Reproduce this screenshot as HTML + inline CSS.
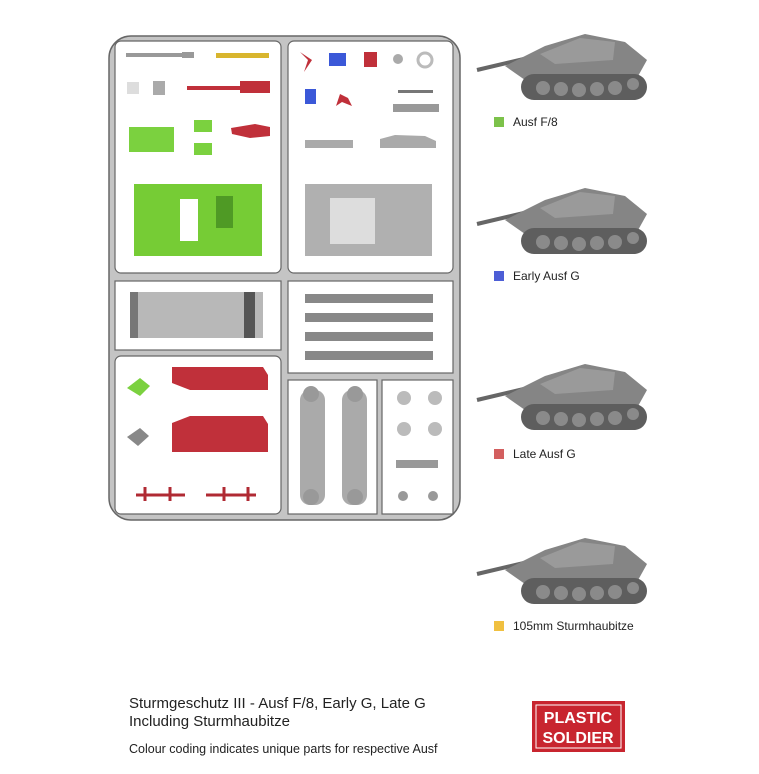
<!DOCTYPE html>
<html><head><style>
body{margin:0;background:#fff;width:759px;height:769px;overflow:hidden;font-family:"Liberation Sans",sans-serif}
</style></head><body>
<svg width="759" height="769" viewBox="0 0 759 769" xmlns="http://www.w3.org/2000/svg" font-family="Liberation Sans, sans-serif">
<defs>
<g id="tank">
  <line x1="-8" y1="52" x2="60" y2="36" stroke="#666" stroke-width="4"/>
  <polygon points="20,48 60,28 100,16 140,24 162,42 152,60 40,62" fill="#858585"/>
  <polygon points="55,36 95,20 130,24 128,42 70,46" fill="#9a9a9a"/>
  <rect x="36" y="56" width="126" height="26" rx="13" fill="#5e5e5e"/>
  <g fill="#8a8a8a"><circle cx="58" cy="70" r="7"/><circle cx="76" cy="71" r="7"/><circle cx="94" cy="72" r="7"/><circle cx="112" cy="71" r="7"/><circle cx="130" cy="70" r="7"/><circle cx="148" cy="66" r="6"/></g>
</g>
</defs>
<!-- sprue frame -->
<rect x="109" y="36" width="351" height="484" rx="22" fill="#c4c4c4" stroke="#666" stroke-width="1.5"/>
<g fill="#fff" stroke="#666" stroke-width="1.2">
<rect x="115" y="41" width="166" height="232" rx="6"/>
<rect x="288" y="41" width="165" height="232" rx="6"/>
<rect x="115" y="281" width="166" height="69"/>
<rect x="288" y="281" width="165" height="92"/>
<rect x="115" y="356" width="166" height="158" rx="6"/>
<rect x="288" y="380" width="89" height="134"/>
<rect x="382" y="380" width="71" height="134"/>
</g>
<!-- top-left parts -->
<rect x="126" y="53" width="60" height="4" fill="#999"/><rect x="182" y="52" width="12" height="6" fill="#999"/>
<rect x="216" y="53" width="53" height="5" fill="#d8b52e"/>
<rect x="127" y="82" width="12" height="12" fill="#ddd"/><rect x="153" y="81" width="12" height="14" fill="#aaa"/>
<rect x="187" y="86" width="60" height="4" fill="#c0303a"/><rect x="240" y="81" width="30" height="12" fill="#c0303a"/>
<rect x="129" y="127" width="45" height="25" fill="#7bd13f"/>
<rect x="194" y="120" width="18" height="12" fill="#7bd13f"/><rect x="194" y="143" width="18" height="12" fill="#7bd13f"/>
<path d="M231 128 L255 124 L270 127 L270 136 L250 138 L232 134Z" fill="#c0303a"/>
<rect x="134" y="184" width="128" height="72" fill="#76cc35"/>
<rect x="180" y="199" width="18" height="42" fill="#fff"/>
<rect x="216" y="196" width="17" height="32" fill="#4f9a25"/>
<!-- top-right parts -->
<path d="M300 52 L312 60 L304 72 L308 60Z" fill="#c0303a"/>
<rect x="329" y="53" width="17" height="13" fill="#3b58d8"/>
<rect x="364" y="52" width="13" height="15" fill="#c0303a"/>
<circle cx="398" cy="59" r="5" fill="#aaa"/><circle cx="425" cy="60" r="7" fill="none" stroke="#bbb" stroke-width="3"/>
<rect x="305" y="89" width="11" height="15" fill="#3b58d8"/>
<path d="M340 94 L348 98 L352 106 L342 102 L336 106Z" fill="#c0303a"/>
<rect x="398" y="90" width="35" height="3" fill="#777"/>
<rect x="393" y="104" width="46" height="8" fill="#999"/>
<rect x="305" y="140" width="48" height="8" fill="#aaa"/>
<path d="M380 139 L395 135 L425 136 L436 141 L436 148 L380 148Z" fill="#aaa"/>
<rect x="305" y="184" width="127" height="72" fill="#b0b0b0"/>
<rect x="330" y="198" width="45" height="46" fill="#ddd"/>
<!-- middle -->
<rect x="130" y="292" width="133" height="46" fill="#b8b8b8"/>
<rect x="130" y="292" width="8" height="46" fill="#777"/><rect x="244" y="292" width="11" height="46" fill="#555"/>
<g fill="#888"><rect x="305" y="294" width="128" height="9"/><rect x="305" y="313" width="128" height="9"/><rect x="305" y="332" width="128" height="9"/><rect x="305" y="351" width="128" height="9"/></g>
<!-- bottom-left -->
<path d="M127 388 L140 378 L150 386 L140 396 Z" fill="#7bd13f"/>
<path d="M127 437 L140 428 L149 436 L138 446 Z" fill="#888"/>
<path d="M172 367 L263 367 L268 375 L268 390 L190 390 L172 383Z" fill="#c0303a"/>
<path d="M172 423 L190 416 L263 416 L268 424 L268 452 L172 452Z" fill="#c0303a"/>
<g stroke="#b02a33" stroke-width="3"><line x1="136" y1="495" x2="185" y2="495"/><line x1="206" y1="495" x2="256" y2="495"/><line x1="145" y1="487" x2="145" y2="501"/><line x1="170" y1="487" x2="170" y2="501"/><line x1="224" y1="487" x2="224" y2="501"/><line x1="248" y1="487" x2="248" y2="501"/></g>
<!-- bogies -->
<g fill="#aaa">
<rect x="300" y="390" width="25" height="115" rx="10"/><rect x="342" y="390" width="25" height="115" rx="10"/>
</g>
<g fill="#999"><circle cx="311" cy="394" r="8"/><circle cx="311" cy="497" r="8"/><circle cx="355" cy="394" r="8"/><circle cx="355" cy="497" r="8"/></g>
<g fill="#bbb"><circle cx="404" cy="398" r="7"/><circle cx="435" cy="398" r="7"/><circle cx="404" cy="429" r="7"/><circle cx="435" cy="429" r="7"/></g>
<rect x="396" y="460" width="42" height="8" fill="#999"/>
<circle cx="403" cy="496" r="5" fill="#999"/><circle cx="433" cy="496" r="5" fill="#999"/>
<!-- tanks -->
<use href="#tank" x="485" y="18"/>
<use href="#tank" x="485" y="172"/>
<use href="#tank" x="485" y="348"/>
<use href="#tank" x="485" y="522"/>
<g font-size="12" fill="#222">
<rect x="494" y="117" width="10" height="10" fill="#7cc24a"/><text x="513" y="126">Ausf F/8</text>
<rect x="494" y="271" width="10" height="10" fill="#4d5ed6"/><text x="513" y="280">Early Ausf G</text>
<rect x="494" y="449" width="10" height="10" fill="#d35f5f"/><text x="513" y="458">Late Ausf G</text>
<rect x="494" y="621" width="10" height="10" fill="#f0c040"/><text x="513" y="630">105mm Sturmhaubitze</text>
</g>
<g fill="#222">
<text x="129" y="708" font-size="15">Sturmgeschutz III - Ausf F/8, Early G, Late G</text>
<text x="129" y="726" font-size="15">Including Sturmhaubitze</text>
<text x="129" y="753" font-size="12.5">Colour coding indicates unique parts for respective Ausf</text>
</g>
<rect x="532" y="701" width="93" height="51" fill="#c8252f"/>
<rect x="536" y="705" width="85" height="43" fill="none" stroke="#fff" stroke-width="1"/>
<text x="578" y="723" font-size="16" font-weight="bold" fill="#fff" text-anchor="middle">PLASTIC</text>
<text x="578" y="743" font-size="16" font-weight="bold" fill="#fff" text-anchor="middle">SOLDIER</text>
</svg>
</body></html>
